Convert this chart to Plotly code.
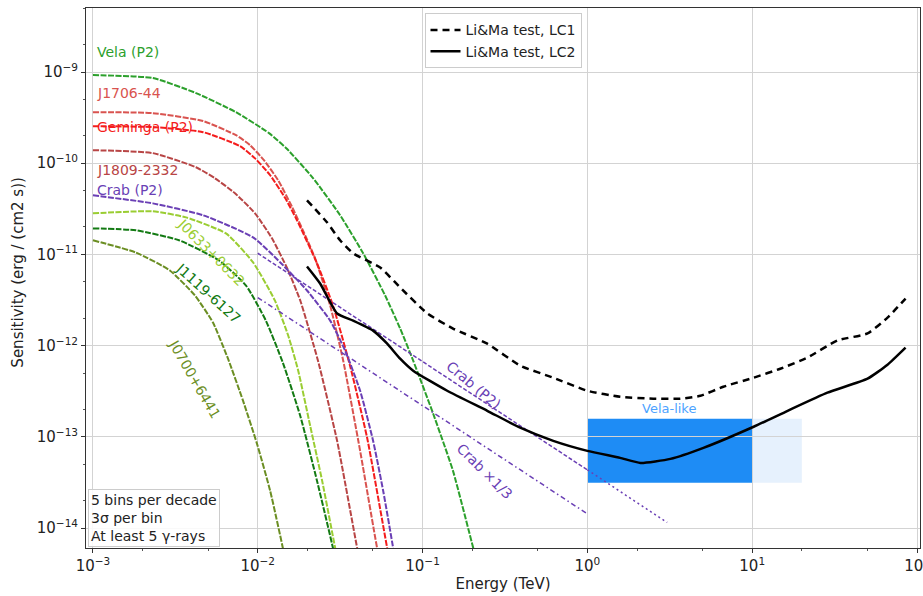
import plotly.graph_objects as go

# ---------------- data (energy in TeV, sensitivity in erg/(cm2 s)) ----------------
vela_E = [1.00e-3, 2.31e-3, 4.22e-3, 7.38e-3, 1.17e-2, 1.49e-2, 2.17e-2, 3.16e-2, 4.36e-2,
          5.93e-2, 7.31e-2, 8.77e-2, 0.116, 0.153, 0.203, 0.212]
vela_S = [9.27e-10, 8.59e-10, 5.88e-10, 3.63e-10, 2.14e-10, 1.46e-10, 6.84e-11, 2.69e-11, 1.03e-11,
          3.54e-12, 1.54e-12, 6.84e-13, 1.79e-13, 4.23e-14, 6.03e-15, 4.5e-15]

j1706_E = [1.00e-3, 2.31e-3, 4.66e-3, 7.38e-3, 8.98e-3, 1.09e-2, 1.33e-2, 1.62e-2, 1.94e-2, 2.23e-2,
           2.75e-2, 3.30e-2, 4.18e-2, 5.30e-2, 5.5e-2]
j1706_S = [3.63e-10, 3.54e-10, 2.90e-10, 2.03e-10, 1.58e-10, 1.08e-10, 6.50e-11, 3.28e-11, 1.62e-11, 9.04e-12,
           2.75e-12, 6.84e-13, 7.02e-14, 6.03e-15, 4.5e-15]

geminga_E = [1.00e-3, 2.31e-3, 4.66e-3, 7.81e-3, 9.63e-3, 1.19e-2, 1.47e-2, 1.73e-2, 2.29e-2, 2.86e-2,
             3.63e-2, 4.61e-2, 6.10e-2, 6.3e-2]
geminga_S = [2.55e-10, 2.49e-10, 2.19e-10, 1.54e-10, 1.13e-10, 7.38e-11, 4.12e-11, 2.37e-11, 7.96e-12, 2.75e-12,
             6.03e-13, 9.75e-14, 6.03e-15, 4.5e-15]

j1809_E = [1.00e-3, 2.31e-3, 4.22e-3, 5.50e-3, 7.28e-3, 9.63e-3, 1.22e-2, 1.51e-2, 1.81e-2, 2.32e-2,
           3.03e-2, 4.01e-2, 4.15e-2]
j1809_S = [1.39e-10, 1.29e-10, 9.04e-11, 6.84e-11, 4.68e-11, 2.82e-11, 1.50e-11, 7.02e-12, 3.13e-12, 6.84e-13,
           9.04e-14, 6.03e-15, 4.5e-15]

crab_E = [1.00e-3, 2.31e-3, 4.66e-3, 9.37e-3, 1.37e-2, 1.99e-2, 2.75e-2, 3.39e-2, 4.18e-2, 5.01e-2,
          5.77e-2, 6.63e-2, 6.8e-2]
crab_S = [4.45e-11, 3.63e-11, 2.69e-11, 1.54e-11, 8.17e-12, 4.02e-12, 1.88e-12, 8.81e-13, 3.20e-13, 9.04e-14,
          2.55e-14, 6.03e-15, 4.5e-15]

j0633_E = [1.00e-3, 2.31e-3, 3.67e-3, 6.42e-3, 9.37e-3, 1.27e-2, 1.53e-2, 1.76e-2, 2.08e-2, 2.46e-2,
           2.95e-2, 3.05e-2]
j0633_S = [2.82e-11, 2.97e-11, 2.55e-11, 1.70e-11, 8.17e-12, 3.13e-12, 1.29e-12, 5.31e-13, 1.32e-13, 3.28e-14,
           6.03e-15, 4.5e-15]

j1119_E = [1.00e-3, 1.82e-3, 3.33e-3, 5.82e-3, 8.49e-3, 1.12e-2, 1.42e-2, 1.81e-2, 2.29e-2, 2.86e-2, 2.95e-2]
j1119_S = [1.93e-11, 1.84e-11, 1.43e-11, 8.59e-12, 4.56e-12, 1.88e-12, 6.50e-13, 1.70e-13, 3.28e-14, 6.03e-15, 4.5e-15]

j0700_E = [1.00e-3, 1.82e-3, 2.93e-3, 4.16e-3, 5.35e-3, 6.60e-3, 8.14e-3, 9.90e-3, 1.19e-2, 1.42e-2, 1.46e-2]
j0700_S = [1.43e-11, 1.05e-11, 6.67e-12, 3.54e-12, 1.79e-12, 7.19e-13, 2.49e-13, 8.37e-14, 2.55e-14, 6.03e-15, 4.5e-15]

crab_pl_E = [0.01, 1.0]
crab_pl_S = [1.03e-11, 4.34e-14]
crab_pl_ext_E = [1.0, 3.05]
crab_pl_ext_S = [4.34e-14, 1.15e-14]
crab_third_E = [0.01, 1.0]
crab_third_S = [3.37e-12, 1.43e-14]

lc1_E = [1.99e-2, 2.63e-2, 3.16e-2, 3.79e-2, 5.53e-2, 7.31e-2, 0.107, 0.153, 0.247, 0.391, 0.621, 1.00,
         1.58, 2.51, 3.66, 4.85, 6.68, 10.2, 14.8, 21.6, 32.9, 50.1, 66.2, 85.2]
lc1_S = [3.92e-11, 2.25e-11, 1.43e-11, 1.03e-11, 7.19e-12, 4.34e-12, 2.25e-12, 1.54e-12, 1.05e-12, 6.03e-13,
         4.45e-13, 3.20e-13, 2.75e-13, 2.62e-13, 2.62e-13, 2.82e-13, 3.54e-13, 4.45e-13, 5.58e-13, 7.38e-13,
         1.14e-12, 1.36e-12, 2.03e-12, 3.28e-12]

lc2_E = [1.99e-2, 2.39e-2, 3.03e-2, 3.79e-2, 5.01e-2, 6.10e-2, 7.31e-2, 8.77e-2, 0.141, 0.247, 0.391, 0.621,
         1.00, 1.58, 2.10, 3.19, 5.06, 10.2, 16.4, 28.6, 50.1, 66.2, 85.2]
lc2_S = [7.38e-12, 4.80e-12, 2.25e-12, 1.88e-12, 1.46e-12, 1.05e-12, 7.19e-13, 5.31e-13, 3.20e-13, 1.93e-13,
         1.26e-13, 9.04e-14, 7.02e-14, 5.88e-14, 5.18e-14, 5.73e-14, 7.57e-14, 1.29e-13, 1.93e-13, 3.05e-13,
         4.34e-13, 6.18e-13, 9.51e-13]

vela_like_E = [1.0, 10.0, 20.0]          # dark box 1-10 TeV, light extension to 20 TeV
vela_like_S = [3.13e-14, 1.58e-13]

x_tick_vals = [1e-3, 1e-2, 1e-1, 1e0, 1e1, 1e2]
x_tick_text = ["10<sup>−3</sup>", "10<sup>−2</sup>", "10<sup>−1</sup>", "10<sup>0</sup>", "10<sup>1</sup>", "10<sup>2</sup>"]
y_tick_vals = [1e-14, 1e-13, 1e-12, 1e-11, 1e-10, 1e-9]
y_tick_text = ["10<sup>−14</sup>", "10<sup>−13</sup>", "10<sup>−12</sup>", "10<sup>−11</sup>", "10<sup>−10</sup>", "10<sup>−9</sup>"]

# ---------------- styles ----------------
FONT = "DejaVu Sans"
FS = 14
C_VELA = "#2ca02c"
C_J1706 = "#d9534f"
C_GEM = "#f41c1c"
C_J1809 = "#b84545"
C_CRAB = "#6a3fb5"
C_J0633 = "#9acd32"
C_J1119 = "#137a13"
C_J0700 = "#6b8e23"
PDASH = "6px,1.5px"

fig = go.Figure()

def curve(E, S, color, dash=PDASH, width=2.0):
    fig.add_trace(go.Scatter(x=E, y=S, mode="lines", showlegend=False,
                             line=dict(color=color, width=width, dash=dash, shape="spline", smoothing=0.5),
                             hoverinfo="skip"))

curve(vela_E, vela_S, C_VELA)
curve(j1706_E, j1706_S, C_J1706)
curve(geminga_E, geminga_S, C_GEM)
curve(j1809_E, j1809_S, C_J1809)
curve(j0633_E, j0633_S, C_J0633)
curve(j1119_E, j1119_S, C_J1119)
curve(j0700_E, j0700_S, C_J0700)
curve(crab_E, crab_S, C_CRAB)
curve(crab_pl_E, crab_pl_S, C_CRAB, dash="4px,2px", width=1.5)
curve(crab_pl_ext_E, crab_pl_ext_S, C_CRAB, dash="2px,3px", width=1.5)
curve(crab_third_E, crab_third_S, C_CRAB, dash="5px,3px,1.5px,3px", width=1.5)

fig.add_trace(go.Scatter(x=lc1_E, y=lc1_S, mode="lines", name="Li&Ma test, LC1",
                         line=dict(color="black", width=2.5, dash="7px,5px", shape="spline", smoothing=0.5),
                         hoverinfo="skip"))
fig.add_trace(go.Scatter(x=lc2_E, y=lc2_S, mode="lines", name="Li&Ma test, LC2",
                         line=dict(color="black", width=2.5, shape="spline", smoothing=0.5),
                         hoverinfo="skip"))

# Vela-like boxes (shape coordinates in data units), drawn below the grid
fig.add_shape(type="rect", xref="x", yref="y", x0=vela_like_E[1], x1=vela_like_E[2],
              y0=vela_like_S[0], y1=vela_like_S[1], fillcolor="#e6f1fd", line_width=0, layer="below")
fig.add_shape(type="rect", xref="x", yref="y", x0=vela_like_E[0], x1=vela_like_E[1],
              y0=vela_like_S[0], y1=vela_like_S[1], fillcolor="#1e8cf5", line_width=0, layer="below")

def label(text, lx_, ly_, color, angle=0, anchor="center", size=FS):
    fig.add_annotation(x=lx_, y=ly_, xref="x", yref="y", text=text, showarrow=False,
                       textangle=angle, xanchor=anchor, yanchor="middle",
                       font=dict(family=FONT, size=size, color=color))

# annotation positions on log axes are given in log10 units
label("Vela (P2)", -2.99, -8.78, C_VELA, anchor="left")
label("J1706-44", -2.99, -9.231, C_J1706, anchor="left")
label("Geminga (P2)", -2.99, -9.604, C_GEM, anchor="left")
label("J1809-2332", -2.99, -10.077, C_J1809, anchor="left")
label("Crab (P2)", -2.99, -10.297, C_CRAB, anchor="left")
label("J0633+0632", -2.285, -10.978, C_J0633, angle=45)
label("J1119-6127", -2.30, -11.418, C_J1119, angle=42)
label("J0700+6441", -2.382, -12.363, C_J0700, angle=60)
label("Crab (P2)", -0.691, -12.429, C_CRAB, angle=40)
label("Crab ×1/3", -0.624, -13.374, C_CRAB, angle=45)
label("Vela-like", 0.497, -12.692, "#4da3ff", size=13)

fig.add_annotation(xref="paper", yref="paper", x=0.002, y=0.002, xanchor="left", yanchor="bottom",
                   text="5 bins per decade<br>3σ per bin<br>At least 5 γ-rays", align="left",
                   showarrow=False, bordercolor="#cccccc", borderwidth=1, borderpad=2,
                   bgcolor="rgba(255,255,255,0.85)", font=dict(family=FONT, size=FS, color="#222"))

# y-axis title placed like the reference
fig.add_annotation(xref="paper", yref="paper", x=-0.0815, y=0.51, xanchor="center", yanchor="middle",
                   text="Sensitivity (erg / (cm2 s))", textangle=-90, showarrow=False,
                   font=dict(family=FONT, size=15, color="#222"))

axis_common = dict(type="log", showgrid=True, gridcolor="#d3d3d3", gridwidth=1.2,
                   showline=True, linecolor="#333", linewidth=1, mirror=True,
                   ticks="outside", ticklen=4, tickcolor="#333", zeroline=False, automargin=False,
                   ticklabeloverflow="allow",
                   tickfont=dict(family=FONT, size=15, color="#222"),
                   minor=dict(ticks="outside", ticklen=2, tickcolor="#555", showgrid=False))

fig.update_layout(
    width=923, height=596,
    margin=dict(l=86, r=3, t=8, b=48),
    paper_bgcolor="white", plot_bgcolor="white",
    font=dict(family=FONT, size=FS, color="#222"),
    xaxis=dict(axis_common, range=[-3.042, 2.018], tickvals=x_tick_vals, ticktext=x_tick_text,
               title=dict(text="Energy (TeV)", font=dict(family=FONT, size=15), standoff=4)),
    yaxis=dict(axis_common, range=[-14.219, -8.298], tickvals=y_tick_vals, ticktext=y_tick_text),
    legend=dict(x=0.5, y=0.99, xanchor="center", yanchor="top", bgcolor="rgba(255,255,255,0.85)",
                bordercolor="#cccccc", borderwidth=1, font=dict(family=FONT, size=FS, color="#222"),
                tracegroupgap=0, itemwidth=30),
    showlegend=True,
)

fig.write_html("out.html", config={"displayModeBar": False},
               post_script="document.body.style.margin='0';document.body.style.padding='0';"
                           "document.documentElement.style.overflow='hidden';")
